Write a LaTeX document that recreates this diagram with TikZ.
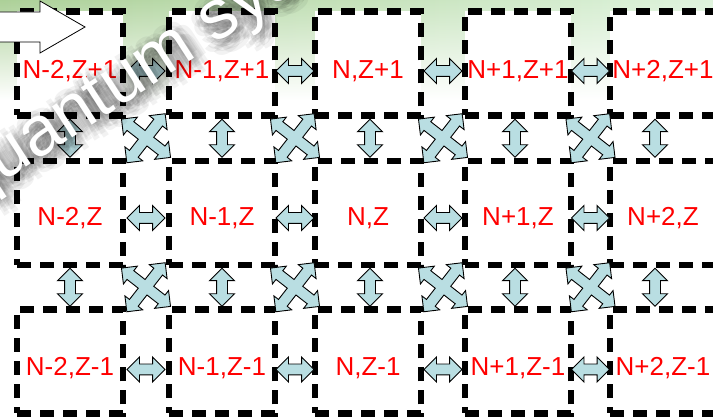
\documentclass[tikz,border=0pt]{standalone}
\usepackage{fontspec}
\setmainfont{Liberation Sans}
\usetikzlibrary{shapes.arrows, positioning, calc, fadings}
\definecolor{arrowblue}{RGB}{185,222,226}
\definecolor{leafgreen}{RGB}{172,208,152}
\definecolor{palegreen}{RGB}{222,243,220}

\tikzset{
    cell/.style={
        draw=black,
        line width=6.5pt,
        dash pattern=on 14pt off 9pt,
        fill=white,
        minimum width=106pt,
        minimum height=104pt,
        inner sep=0pt
    },
    lbl/.style={
        text=red,
        font=\fontsize{26}{26}\selectfont,
        text height=19pt,
        text depth=0pt,
        inner sep=0pt
    },
    harrow/.style={
        double arrow,
        draw=black,
        line width=0.9pt,
        fill=arrowblue,
        minimum height=38pt,
        minimum width=24pt,
        double arrow head extend=7pt,
        inner xsep=0pt,
        inner ysep=5pt
    },
    varrow/.style={harrow, rotate=90},
    crossfill/.style={draw=black, line width=0.9pt, fill=arrowblue},
    quad/.pic={
        \filldraw[crossfill] (22,22) -- (6,22) -- (10.1,17.9) -- (0,7.8)
            -- (-10.1,17.9) -- (-6,22) -- (-22,22) -- (-22,6) -- (-17.9,10.1)
            -- (-7.8,0) -- (-17.9,-10.1) -- (-22,-6) -- (-22,-22) -- (-6,-22)
            -- (-10.1,-17.9) -- (0,-7.8) -- (10.1,-17.9) -- (6,-22) -- (22,-22)
            -- (22,-6) -- (17.9,-10.1) -- (7.8,0) -- (17.9,10.1) -- (22,6) -- cycle;
    },
    wmtext/.style={
        text=white,
        font=\fontsize{70}{70}\selectfont,
        rotate=33,
        anchor=base west,
        inner sep=0pt
    },
    wmshade/.style={wmtext, text=black, text opacity=0.05}
}

\begin{document}
\begin{tikzpicture}[x=1pt, y=-1pt]
    \useasboundingbox (0,0) rectangle (713,419);
    \clip (0,0) rectangle (713,419);

    % Slide background (green photo strip at the top)
    \shade[left color=leafgreen, right color=palegreen, path fading=south] (0,0) rectangle (713,100);

    % Cells of the chart
    \foreach \r/\y/\z/\dy in {1/63.5/Z+1/5.5, 2/213/Z/3, 3/361.5/Z-1/5} {
        \foreach \c/\x/\n in {1/70/N-2, 2/222/N-1, 3/368/N, 4/518/N+1, 5/663/N+2} {
            \node[cell] (c\c\r) at (\x,\y) {};
            \node[lbl] (t\c\r) at ([yshift=-\dy]c\c\r.center) {\n,\z};
        }
    }

    % Links along a row
    \foreach \r/\dy in {1/7.5, 2/5, 3/8} {
        \foreach \c [evaluate=\c as \d using int(\c+1)] in {1,...,4} {
            \node[harrow] (h\c\r) at ($(c\c\r.east)!0.5!(c\d\r.west)+(0,\dy)$) {};
        }
    }

    % Links along a column
    \foreach \c/\dx in {1/0, 2/0, 3/2, 4/-3, 5/-8} {
        \foreach \r [evaluate=\r as \s using int(\r+1)] in {1,2} {
            \node[varrow] (v\c\r) at ($(c\c\r.south)!0.5!(c\c\s.north)+(\dx,0)$) {};
        }
    }

    % Diagonal links
    \foreach \c [evaluate=\c as \d using int(\c+1)] in {1,...,4} {
        \foreach \r [evaluate=\r as \s using int(\r+1)] in {1,2} {
            \pic[rotate=7] (x\c\r) at ($(c\c\r.south east)!0.5!(c\d\s.north west)$) {quad};
        }
    }

    % Arrow pointing into the chart
    \draw[fill=white, line width=0.8pt] (-5,12) -- (40,12) -- (40,1) -- (85,27)
        -- (40,53) -- (40,42) -- (-5,42) -- cycle;

    % Watermark of the slide
    \foreach \dx/\dy [count=\k] in {0/0, 4/0, -4/0, 0/4, 0/-4, 3/3, -3/3, 3/-3, -3/-3,
            8/0, -8/0, 0/8, 0/-8, 6/6, -6/6, 6/-6, -6/-6,
            12/0, -12/0, 0/12, 0/-12, 9/9, -9/9, 9/-9, -9/-9} {
        \node[wmshade] (ws\k) at ($(-27,208)+(\dx,\dy)$) {quantum sys};
    }
    \node[wmtext] (wm) at (-30,204) {quantum sys};
\end{tikzpicture}
\end{document}
